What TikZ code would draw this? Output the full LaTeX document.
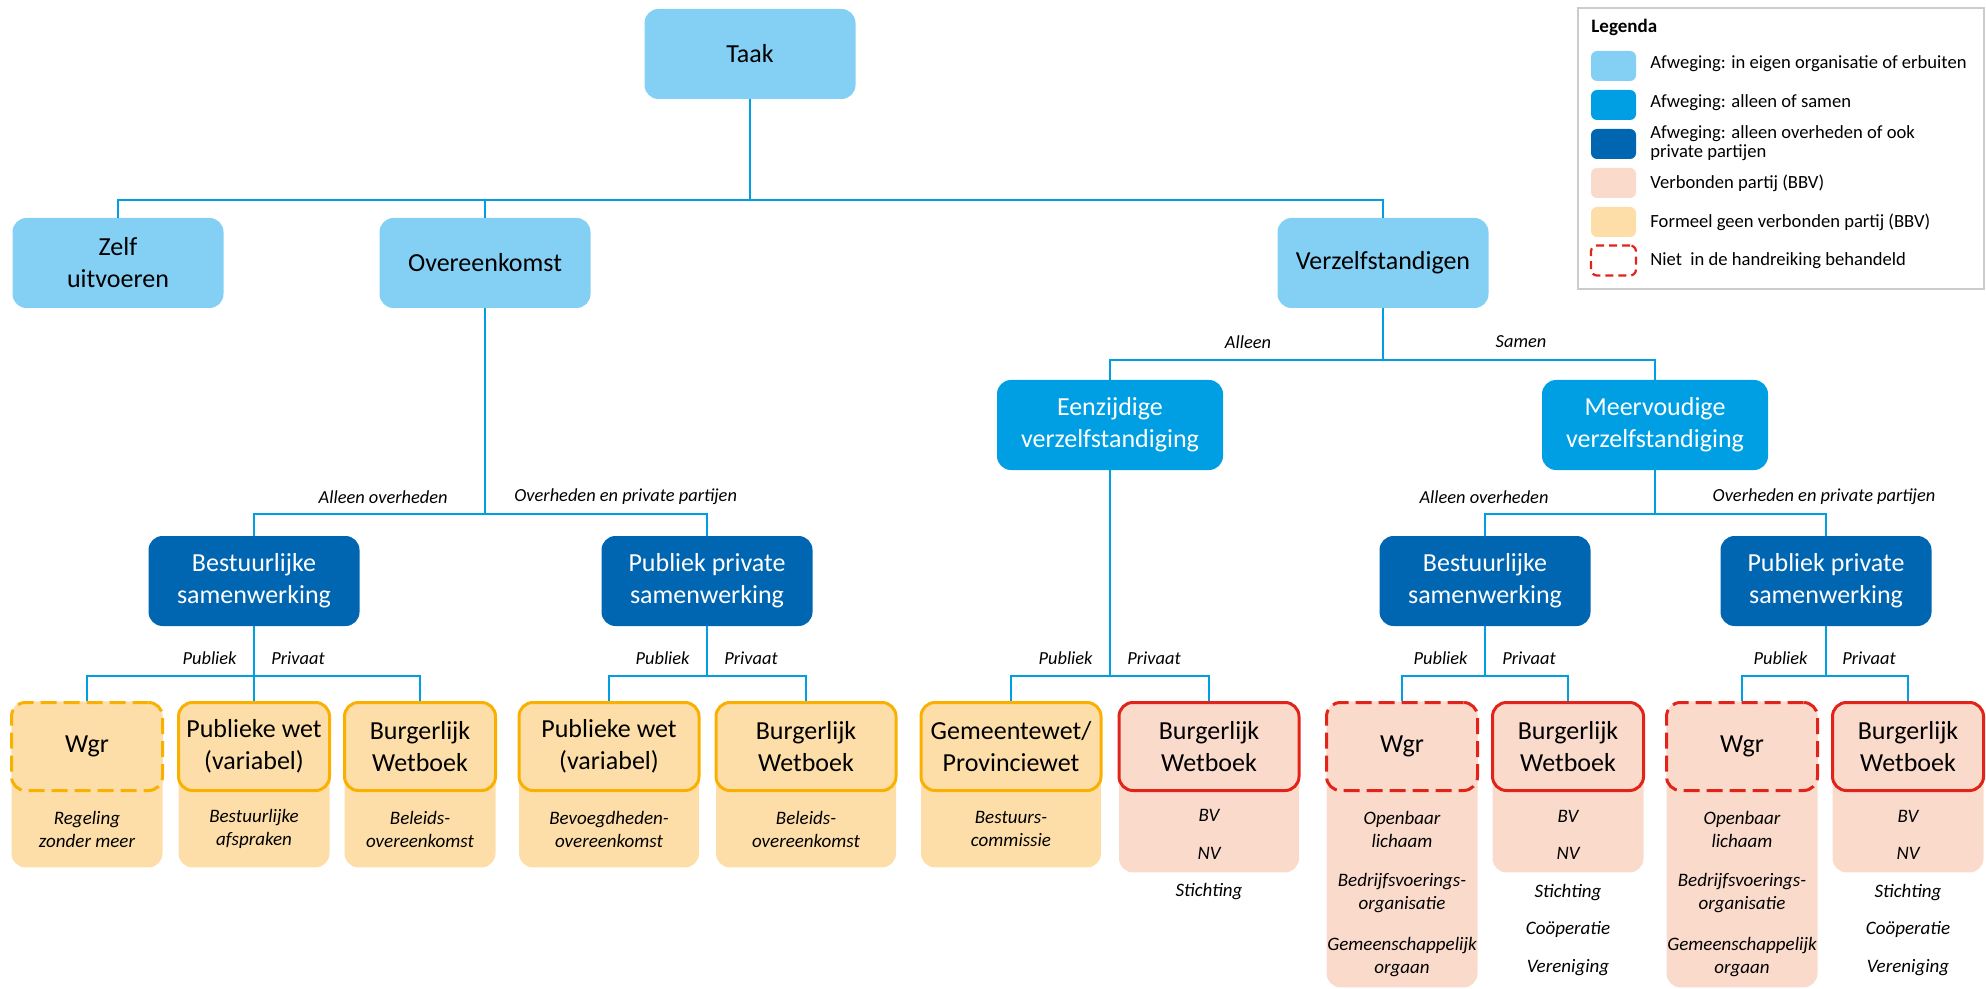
\documentclass[tikz,border=0pt]{standalone}
\usepackage{fontspec}
\setmainfont{Carlito}
\usetikzlibrary{positioning,calc}

\definecolor{lichtblauw}{HTML}{84CFF4}
\definecolor{middenblauw}{HTML}{009FE3}
\definecolor{donkerblauw}{HTML}{0066B2}
\definecolor{lijnblauw}{HTML}{009FE3}
\definecolor{roze}{HTML}{FADBCB}
\definecolor{oranjevlak}{HTML}{FDDEA8}
\definecolor{oranjerand}{HTML}{F9B000}
\definecolor{rood}{HTML}{E2231A}
\definecolor{kader}{HTML}{CCCCCC}

\tikzset{
  box/.style={rounded corners=7pt, align=center, inner sep=2pt,
    font=\fontsize{13}{16}\selectfont, minimum height=45pt},
  keuze/.style={box, fill=lichtblauw, minimum width=105.5pt},
  samen/.style={box, fill=middenblauw, text=white, minimum width=113pt},
  partij/.style={box, fill=donkerblauw, text=white, minimum width=105.5pt},
  smal/.style={minimum width=75.5pt},
  breed/.style={minimum width=90pt},
  kopO/.style={box, anchor=north, fill=oranjevlak, draw=oranjerand, line width=1.5pt, minimum height=44pt},
  kopR/.style={box, anchor=north, fill=roze, draw=rood, line width=1.5pt, minimum height=44pt},
  nietbeh/.style={dash pattern=on 8pt off 3.5pt},
  vlakO/.style={anchor=north, rounded corners=7pt, fill=oranjevlak, inner sep=0pt},
  vlakR/.style={anchor=north, rounded corners=7pt, fill=roze, inner sep=0pt},
  sub/.style={align=center, inner sep=0pt, font=\fontsize{9.5}{11.5}\selectfont\itshape},
  lijst/.style={align=center, inner sep=0pt, font=\fontsize{9.5}{18.75}\selectfont\itshape},
  lbl/.style={inner sep=0pt, font=\fontsize{9.2}{11}\selectfont\itshape},
  lijn/.style={draw=lijnblauw, line width=1.4pt},
  staal/.style={minimum width=22.5pt, minimum height=15pt, rounded corners=3pt, inner sep=0pt},
  legtekst/.style={anchor=west, align=left, inner sep=0pt, font=\fontsize{9.3}{9.8}\selectfont},
}

\begin{document}
\begin{tikzpicture}[x=0.5pt, y=-0.5pt]
\useasboundingbox (0,0) rectangle (1986,989);

% bovenste lagen
\node[keuze] (taak) at (750,54) {Taak};
\node[keuze] (zelf) at (118,263) {Zelf\\uitvoeren};
\node[keuze] (overeenkomst) at (485,263) {Overeenkomst};
\node[keuze] (verzelf) at (1383,263) {Verzelfstandigen};
\node[samen] (eenzijdig) at (1110,425) {Eenzijdige\\verzelfstandiging};
\node[samen] (meervoudig) at (1655,425) {Meervoudige\\verzelfstandiging};
\node[partij] (bsL) at (254,581) {Bestuurlijke\\samenwerking};
\node[partij] (ppsL) at (707,581) {Publiek private\\samenwerking};
\node[partij] (bsR) at (1485,581) {Bestuurlijke\\samenwerking};
\node[partij] (ppsR) at (1826,581) {Publiek private\\samenwerking};

% achtergrondvlakken onderste laag
\node[vlakO, smal, minimum height=83pt] (wgrAvlak) at (87,701) {};
\node[vlakO, smal, minimum height=83pt] (pwAvlak) at (254,701) {};
\node[vlakO, smal, minimum height=83pt] (bwAvlak) at (420,701) {};
\node[vlakO, breed, minimum height=83pt] (pwBvlak) at (609,701) {};
\node[vlakO, breed, minimum height=83pt] (bwBvlak) at (806,701) {};
\node[vlakO, breed, minimum height=83pt] (gemCvlak) at (1011,701) {};
\node[vlakR, breed, minimum height=85.5pt] (bwCvlak) at (1209,701) {};
\node[vlakR, smal, minimum height=143pt] (wgrDvlak) at (1402,701) {};
\node[vlakR, smal, minimum height=85.5pt] (bwDvlak) at (1568,701) {};
\node[vlakR, smal, minimum height=143pt] (wgrEvlak) at (1742,701) {};
\node[vlakR, smal, minimum height=85.5pt] (bwEvlak) at (1908,701) {};

% koppen onderste laag
\node[kopO, smal, nietbeh] (wgrA) at (87,701) {Wgr};
\node[kopO, smal] (pwA) at (254,701) {Publieke wet\\(variabel)};
\node[kopO, smal] (bwA) at (420,701) {Burgerlijk\\Wetboek};
\node[kopO, breed] (pwB) at (609,701) {Publieke wet\\(variabel)};
\node[kopO, breed] (bwB) at (806,701) {Burgerlijk\\Wetboek};
\node[kopO, breed] (gemC) at (1011,701) {Gemeentewet/\\Provinciewet};
\node[kopR, breed] (bwC) at (1209,701) {Burgerlijk\\Wetboek};
\node[kopR, smal, nietbeh] (wgrD) at (1402,701) {Wgr};
\node[kopR, smal] (bwD) at (1568,701) {Burgerlijk\\Wetboek};
\node[kopR, smal, nietbeh] (wgrE) at (1742,701) {Wgr};
\node[kopR, smal] (bwE) at (1908,701) {Burgerlijk\\Wetboek};

% vormen
\node[sub] (wgrAvorm) at (87,829) {Regeling\\zonder meer};
\node[sub] (pwAvorm) at (254,829) {Bestuurlijke\\afspraken};
\node[sub] (bwAvorm) at (420,829) {Beleids-\\overeenkomst};
\node[sub] (pwBvorm) at (609,829) {Bevoegdheden-\\overeenkomst};
\node[sub] (bwBvorm) at (806,829) {Beleids-\\overeenkomst};
\node[sub] (gemCvorm) at (1011,829) {Bestuurs-\\commissie};
\node[lijst] (bwCvorm) at (1209,855) {BV\\NV\\Stichting};
\node[sub] (wgrDvorm1) at (1402,829) {Openbaar\\lichaam};
\node[sub] (wgrDvorm2) at (1402,893) {Bedrijfsvoerings-\\organisatie};
\node[sub] (wgrDvorm3) at (1402,957) {Gemeenschappelijk\\orgaan};
\node[lijst] (bwDvorm) at (1568,893) {BV\\NV\\Stichting\\Coöperatie\\Vereniging};
\node[sub] (wgrEvorm1) at (1742,829) {Openbaar\\lichaam};
\node[sub] (wgrEvorm2) at (1742,893) {Bedrijfsvoerings-\\organisatie};
\node[sub] (wgrEvorm3) at (1742,957) {Gemeenschappelijk\\orgaan};
\node[lijst] (bwEvorm) at (1908,893) {BV\\NV\\Stichting\\Coöperatie\\Vereniging};

% verbindingen
\coordinate (bus0) at (0,200);
\coordinate (bus1) at (0,360);
\coordinate (bus2) at (0,514);
\coordinate (bus3) at (0,676);
\draw[lijn] (taak.south) -- (taak.south |- bus0) -| (zelf.north);
\draw[lijn] (taak.south |- bus0) -| (overeenkomst.north);
\draw[lijn] (taak.south |- bus0) -| (verzelf.north);
\draw[lijn] (verzelf.south) -- (verzelf.south |- bus1) -| (eenzijdig.north);
\draw[lijn] (verzelf.south |- bus1) -| (meervoudig.north);
\draw[lijn] (overeenkomst.south) -- (overeenkomst.south |- bus2) -| (bsL.north);
\draw[lijn] (overeenkomst.south |- bus2) -| (ppsL.north);
\draw[lijn] (meervoudig.south) -- (meervoudig.south |- bus2) -| (bsR.north);
\draw[lijn] (meervoudig.south |- bus2) -| (ppsR.north);
\draw[lijn] (bsL.south) -- (bsL.south |- bus3) -| (wgrA.north);
\draw[lijn] (bsL.south |- bus3) -| (bwA.north);
\draw[lijn] (bsL.south |- bus3) -- (pwA.north);
\draw[lijn] (ppsL.south) -- (ppsL.south |- bus3) -| (pwB.north);
\draw[lijn] (ppsL.south |- bus3) -| (bwB.north);
\draw[lijn] (eenzijdig.south) -- (eenzijdig.south |- bus3) -| (gemC.north);
\draw[lijn] (eenzijdig.south |- bus3) -| (bwC.north);
\draw[lijn] (bsR.south) -- (bsR.south |- bus3) -| (wgrD.north);
\draw[lijn] (bsR.south |- bus3) -| (bwD.north);
\draw[lijn] (ppsR.south) -- (ppsR.south |- bus3) -| (wgrE.north);
\draw[lijn] (ppsR.south |- bus3) -| (bwE.north);

% keuzes bij de lijnen
\node[lbl] (alleen) at (1248,342) {Alleen};
\node[lbl] (samenlbl) at (1521,342) {Samen};
\node[lbl, anchor=east] (ovL) at (448,497) {Alleen overheden};
\node[lbl, anchor=west] (oppL) at (514,497) {Overheden en private partijen};
\node[lbl] (ovR) at (1484,497) {Alleen overheden};
\node[lbl] (oppR) at (1824,497) {Overheden en private partijen};
\node[lbl, anchor=east] (pubA) at (237,658) {Publiek};
\node[lbl, anchor=west] (privA) at (271,658) {Privaat};
\node[lbl, anchor=east] (pubB) at (690,658) {Publiek};
\node[lbl, anchor=west] (privB) at (724,658) {Privaat};
\node[lbl, anchor=east] (pubC) at (1093,658) {Publiek};
\node[lbl, anchor=west] (privC) at (1127,658) {Privaat};
\node[lbl, anchor=east] (pubD) at (1468,658) {Publiek};
\node[lbl, anchor=west] (privD) at (1502,658) {Privaat};
\node[lbl, anchor=east] (pubE) at (1808,658) {Publiek};
\node[lbl, anchor=west] (privE) at (1842,658) {Privaat};

% legenda
\draw[kader, line width=1pt] (1578,8) rectangle (1984,289);
\node[anchor=west, inner sep=0pt, font=\fontsize{9.5}{11}\selectfont\bfseries] (legenda) at (1591,27) {Legenda};
\node[staal, fill=lichtblauw] (staal1) at (1613.5,66) {};
\node[staal, fill=middenblauw] (staal2) at (1613.5,105) {};
\node[staal, fill=donkerblauw] (staal3) at (1613.5,144) {};
\node[staal, fill=roze] (staal4) at (1613.5,183) {};
\node[staal, fill=oranjevlak] (staal5) at (1613.5,222) {};
\node[staal, draw=rood, line width=1.1pt, dash pattern=on 4pt off 2.5pt] (staal6) at (1613.5,260.5) {};
\node[legtekst] (leg1) at (1650,64) {Afweging: in eigen organisatie of erbuiten};
\node[legtekst] (leg2) at (1650,103) {Afweging: alleen of samen};
\node[legtekst] (leg3) at (1650,143) {Afweging: alleen overheden of ook\\private partijen};
\node[legtekst] (leg4) at (1650,183) {Verbonden partij (BBV)};
\node[legtekst] (leg5) at (1650,222) {Formeel geen verbonden partij (BBV)};
\node[legtekst] (leg6) at (1650,261) {Niet\ \ in de handreiking behandeld};
\end{tikzpicture}
\end{document}
